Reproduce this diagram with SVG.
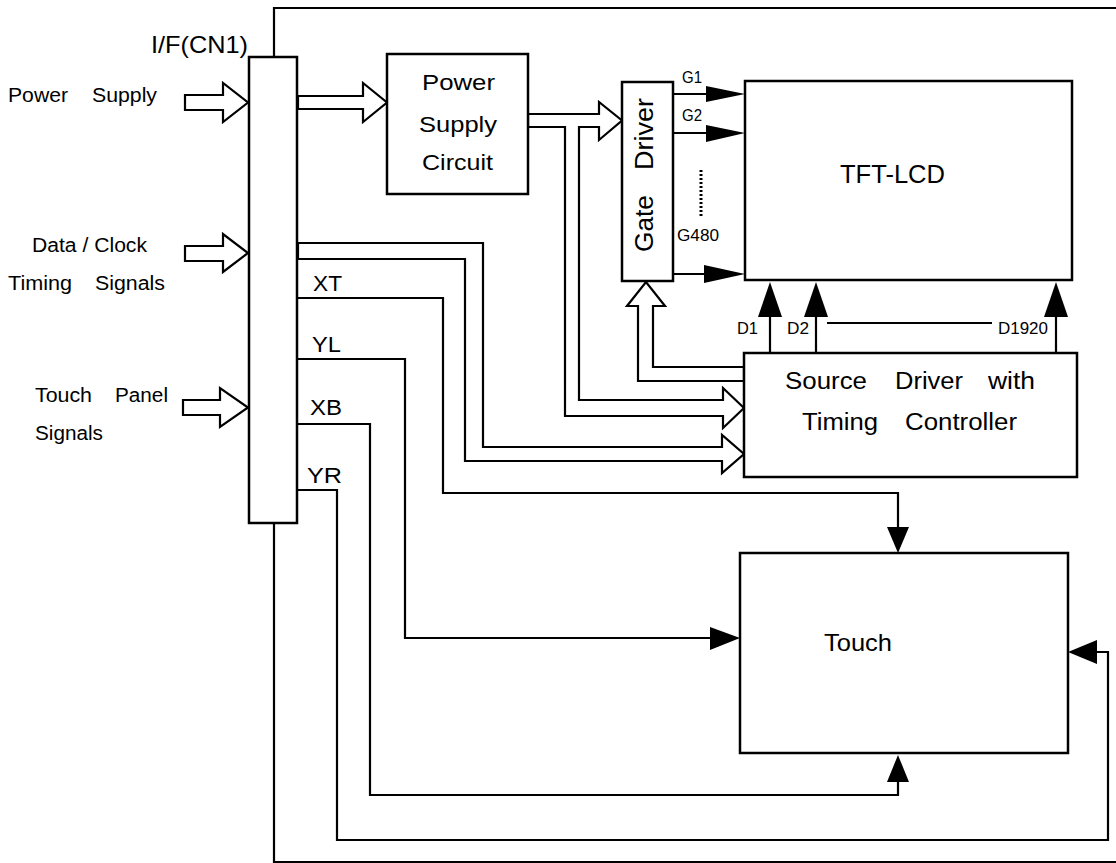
<svg xmlns="http://www.w3.org/2000/svg" width="1116" height="863" viewBox="0 0 1116 863">
<style>
.box{fill:#fff;stroke:#000;stroke-width:2.5}
.w{fill:none;stroke:#000;stroke-width:2.2}
.hol{fill:#fff;stroke:#000;stroke-width:2.2;stroke-linejoin:miter}
.hd{fill:#000;stroke:none}
text{font-family:"Liberation Sans",Arial,sans-serif;fill:#000}
.l{font-size:20px}
.m{font-size:22px}
.s{font-size:16px}
.b{font-size:25px}
</style>
<rect width="1116" height="863" fill="#fff"/>
<g id="frame">
<path class="w" d="M1116,8 H274 V862 H1116"/>
</g>
<g id="input-labels">
<text class="l" x="8" y="102" textLength="60" lengthAdjust="spacingAndGlyphs">Power</text>
<text class="l" x="92" y="102" textLength="65" lengthAdjust="spacingAndGlyphs">Supply</text>
<text class="l" x="32" y="252" textLength="115" lengthAdjust="spacingAndGlyphs">Data / Clock</text>
<text class="l" x="8" y="290" textLength="64" lengthAdjust="spacingAndGlyphs">Timing</text>
<text class="l" x="95" y="290" textLength="70" lengthAdjust="spacingAndGlyphs">Signals</text>
<text class="l" x="35" y="402" textLength="57" lengthAdjust="spacingAndGlyphs">Touch</text>
<text class="l" x="115" y="402" textLength="53" lengthAdjust="spacingAndGlyphs">Panel</text>
<text class="l" x="35" y="440" textLength="68" lengthAdjust="spacingAndGlyphs">Signals</text>
</g>
<g id="connectors">
<polygon class="hol" points="185,95 223,95 223,83 248,102.5 223,122 223,110 185,110"/>
<polygon class="hol" points="185,246 223,246 223,234 248,253 223,272 223,261 185,261"/>
<polygon class="hol" points="183,400 220,400 220,388 248,407.5 220,427 220,415 183,415"/>
<polygon class="hol" points="298,96 363,96 363,83 387,102.5 363,122 363,109 298,109"/>
<polygon class="hol" points="528,114 599,114 599,102 622,120.5 599,140 599,127 579,127 579,400 723,400 723,388 744,408 723,428 723,416 565,416 565,127 528,127"/>
<polygon class="hol" points="298,243 483,243 483,447 722,447 722,435 744,454 722,473 722,461 465,461 465,259 298,259"/>
<polygon class="hol" points="744,367 653,367 653,306 665,306 646,282 627,306 638,306 638,381 744,381"/>
<path class="w" d="M673,94 H710 M673,133 H710 M673,274 H707"/>
<polygon class="hd" points="706,86 745,94 706,102"/>
<polygon class="hd" points="706,125 745,133 706,142"/>
<polygon class="hd" points="704,265 745,274 704,283"/>
<path fill="none" stroke="#000" stroke-width="3" stroke-dasharray="2,2" d="M701,170 V218"/>
<path class="w" d="M770,353 V314 M816,353 V314 M1056,353 V314"/>
<polygon class="hd" points="758,317 770,282 782,317"/>
<polygon class="hd" points="804,317 816,282 828,317"/>
<polygon class="hd" points="1044,317 1056,282 1068,317"/>
<path class="w" d="M827,323 H992"/>
<path class="w" d="M298,298 H443 V493 H898 V530"/>
<polygon class="hd" points="887,527 898,553 909,527"/>
<path class="w" d="M298,359 H405 V638 H712"/>
<polygon class="hd" points="710,627 740,638 710,650"/>
<path class="w" d="M298,424 H370 V795 H898 V780"/>
<polygon class="hd" points="887,782 898,755 909,782"/>
<path class="w" d="M298,490 H337 V840 H1108 V652 H1095"/>
<polygon class="hd" points="1097,640 1068,652 1097,664"/>
</g>
<g id="signal-labels">
<text class="s" x="682" y="83" textLength="20" lengthAdjust="spacingAndGlyphs">G1</text>
<text class="s" x="682" y="121" textLength="20" lengthAdjust="spacingAndGlyphs">G2</text>
<text class="s" x="677" y="241" textLength="42" lengthAdjust="spacingAndGlyphs">G480</text>
<text class="s" x="737" y="334" textLength="21" lengthAdjust="spacingAndGlyphs">D1</text>
<text class="s" x="787" y="334" textLength="22" lengthAdjust="spacingAndGlyphs">D2</text>
<text class="s" x="998" y="334" textLength="50" lengthAdjust="spacingAndGlyphs">D1920</text>
<text class="m" x="313" y="291" textLength="29" lengthAdjust="spacingAndGlyphs">XT</text>
<text class="m" x="312" y="352" textLength="29" lengthAdjust="spacingAndGlyphs">YL</text>
<text class="m" x="310" y="415" textLength="32" lengthAdjust="spacingAndGlyphs">XB</text>
<text class="m" x="307" y="483" textLength="35" lengthAdjust="spacingAndGlyphs">YR</text>
</g>
<g id="interface">
<rect class="box" x="249" y="57" width="48" height="466"/>
<text x="151" y="53" font-size="24" textLength="97" lengthAdjust="spacingAndGlyphs">I/F(CN1)</text>
</g>
<g id="power-supply-circuit">
<rect class="box" x="387" y="54" width="141" height="140"/>
<text class="m" x="422" y="90" textLength="73" lengthAdjust="spacingAndGlyphs">Power</text>
<text class="m" x="419" y="132" textLength="78" lengthAdjust="spacingAndGlyphs">Supply</text>
<text class="m" x="422" y="170" textLength="71" lengthAdjust="spacingAndGlyphs">Circuit</text>
</g>
<g id="gate-driver">
<rect class="box" x="622" y="82" width="51" height="199"/>
<g transform="translate(653,252) rotate(-90)">
<text class="b" x="0" y="0" textLength="57" lengthAdjust="spacingAndGlyphs">Gate</text>
<text class="b" x="82" y="0" textLength="72" lengthAdjust="spacingAndGlyphs">Driver</text>
</g>
</g>
<g id="tft-lcd">
<rect class="box" x="745" y="81" width="327" height="199"/>
<text class="b" x="840" y="183" textLength="105" lengthAdjust="spacingAndGlyphs">TFT-LCD</text>
</g>
<g id="source-driver">
<rect class="box" x="744" y="353" width="333" height="124"/>
<text x="785" y="389" font-size="23" textLength="82" lengthAdjust="spacingAndGlyphs">Source</text>
<text x="895" y="389" font-size="23" textLength="68" lengthAdjust="spacingAndGlyphs">Driver</text>
<text x="988" y="389" font-size="23" textLength="47" lengthAdjust="spacingAndGlyphs">with</text>
<text x="802" y="430" font-size="23" textLength="76" lengthAdjust="spacingAndGlyphs">Timing</text>
<text x="905" y="430" font-size="23" textLength="112" lengthAdjust="spacingAndGlyphs">Controller</text>
</g>
<g id="touch">
<rect class="box" x="740" y="553" width="328" height="200"/>
<text x="824" y="651" font-size="24" textLength="68" lengthAdjust="spacingAndGlyphs">Touch</text>
</g>
</svg>
